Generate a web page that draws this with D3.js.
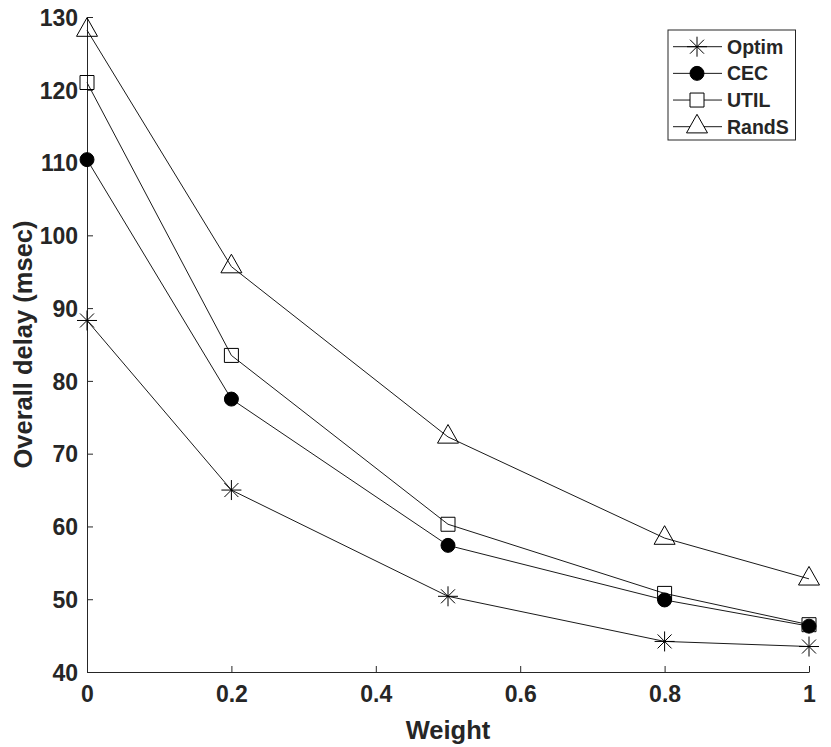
<!DOCTYPE html>
<html>
<head>
  <meta charset="UTF-8">
  <title>Overall delay vs weight</title>
  <script src="https://cdn.jsdelivr.net/npm/d3@7"></script>
</head>
<style>
  body { margin: 0; background: #fff; }
  #chart text { font-family: "Liberation Sans", Arial, sans-serif; font-weight: bold; fill: #262626; }
  .axis path, .axis line { stroke: #262626; stroke-width: 1; }
  .series { fill: none; stroke: #1a1a1a; stroke-width: 1; }
</style>
<body>

<svg id="chart" width="831" height="747"></svg>

<script>
  // Chart data
  var weights = [0, 0.2, 0.5, 0.8, 1];
  var optim = [88.3, 65.0, 50.4, 44.2, 43.5];
  var cec = [110.4, 77.5, 57.4, 49.9, 46.3];
  var util = [121.0, 83.5, 60.3, 50.8, 46.5];
  var rands = [128.2, 95.7, 72.3, 58.4, 52.8];
  var seriesNames = ['Optim', 'CEC', 'UTIL', 'RandS'];
  var xTicks = [0, 0.2, 0.4, 0.6, 0.8, 1];
  var yTicks = [40, 50, 60, 70, 80, 90, 100, 110, 120, 130];

  var series = [
    { name: 'Optim', values: optim, marker: 'star' },
    { name: 'CEC', values: cec, marker: 'dot' },
    { name: 'UTIL', values: util, marker: 'square' },
    { name: 'RandS', values: rands, marker: 'triangle' }
  ];

  var svg = d3.select('#chart');

  var x = d3.scaleLinear().domain([0, 1]).range([87, 809]);
  var y = d3.scaleLinear().domain([40, 130]).range([672, 17]);

  // marker shapes, drawn around (0,0)
  function markerPath(type) {
    var p = d3.path();
    if (type === 'star') {
      var r = 10, d = 7;
      p.moveTo(-r, 0); p.lineTo(r, 0);
      p.moveTo(0, -r); p.lineTo(0, r);
      p.moveTo(-d, -d); p.lineTo(d, d);
      p.moveTo(-d, d); p.lineTo(d, -d);
    } else if (type === 'dot') {
      p.arc(0, 0, 7, 0, 2 * Math.PI);
    } else if (type === 'square') {
      p.rect(-7, -7, 14, 14);
    } else {
      p.moveTo(0, -12.4); p.lineTo(10.5, 6.2); p.lineTo(-10.5, 6.2); p.closePath();
    }
    return p.toString();
  }

  function markerFill(type) {
    return type === 'dot' ? '#000' : 'none';
  }

  // axes
  var xAxis = svg.append('g')
    .attr('class', 'axis')
    .attr('transform', 'translate(0,' + y(40) + ')')
    .call(d3.axisBottom(x).tickValues(xTicks).tickSize(-6).tickSizeOuter(0).tickFormat(d3.format('~g')));
  xAxis.selectAll('text').attr('font-size', 23).attr('y', 14).attr('dy', '0.71em');

  var yAxis = svg.append('g')
    .attr('class', 'axis')
    .attr('transform', 'translate(' + x(0) + ',0)')
    .call(d3.axisLeft(y).tickValues(yTicks).tickSize(-6).tickSizeOuter(0));
  yAxis.selectAll('text').attr('font-size', 23).attr('x', -9).attr('dy', '0.36em');
  svg.selectAll('.axis .domain').attr('fill', 'none');

  svg.append('text')
    .attr('x', (x(0) + x(1)) / 2)
    .attr('y', 739)
    .attr('text-anchor', 'middle')
    .attr('font-size', 25.5)
    .text('Weight');

  svg.append('text')
    .attr('transform', 'translate(32,' + (y(40) + y(130)) / 2 + ') rotate(-90)')
    .attr('text-anchor', 'middle')
    .attr('font-size', 25.5)
    .text('Overall delay (msec)');

  // lines and markers
  var line = d3.line()
    .x(function(d, i) { return x(weights[i]); })
    .y(function(d) { return y(d); });

  series.forEach(function(s) {
    svg.append('path')
      .attr('class', 'series')
      .attr('d', line(s.values));
  });

  series.forEach(function(s) {
    svg.selectAll(null)
      .data(s.values)
      .enter()
      .append('path')
      .attr('transform', function(d, i) { return 'translate(' + x(weights[i]) + ',' + y(d) + ')'; })
      .attr('d', markerPath(s.marker))
      .attr('fill', markerFill(s.marker))
      .attr('stroke', '#000')
      .attr('stroke-width', 1);
  });

  // legend
  var legend = svg.append('g').attr('transform', 'translate(668,30)');
  legend.append('rect')
    .attr('width', 127.5)
    .attr('height', 110)
    .attr('fill', '#fff')
    .attr('stroke', '#262626')
    .attr('stroke-width', 1);

  var rowY = d3.scalePoint().domain(seriesNames).range([16.7, 96.7]);

  var item = legend.selectAll('g.item')
    .data(series)
    .enter()
    .append('g')
    .attr('class', 'item')
    .attr('transform', function(d) { return 'translate(0,' + rowY(d.name) + ')'; });

  item.append('line')
    .attr('x1', 5).attr('x2', 54)
    .attr('stroke', '#1a1a1a').attr('stroke-width', 1);

  item.append('path')
    .attr('transform', 'translate(29,0)')
    .attr('d', function(d) { return markerPath(d.marker); })
    .attr('fill', function(d) { return d.marker === 'dot' ? '#000' : (d.marker === 'star' ? 'none' : '#fff'); })
    .attr('stroke', '#000');

  item.append('text')
    .attr('x', 59)
    .attr('dy', '0.36em')
    .attr('font-size', 19.5)
    .text(function(d) { return d.name; });
</script>
</body>
</html>
